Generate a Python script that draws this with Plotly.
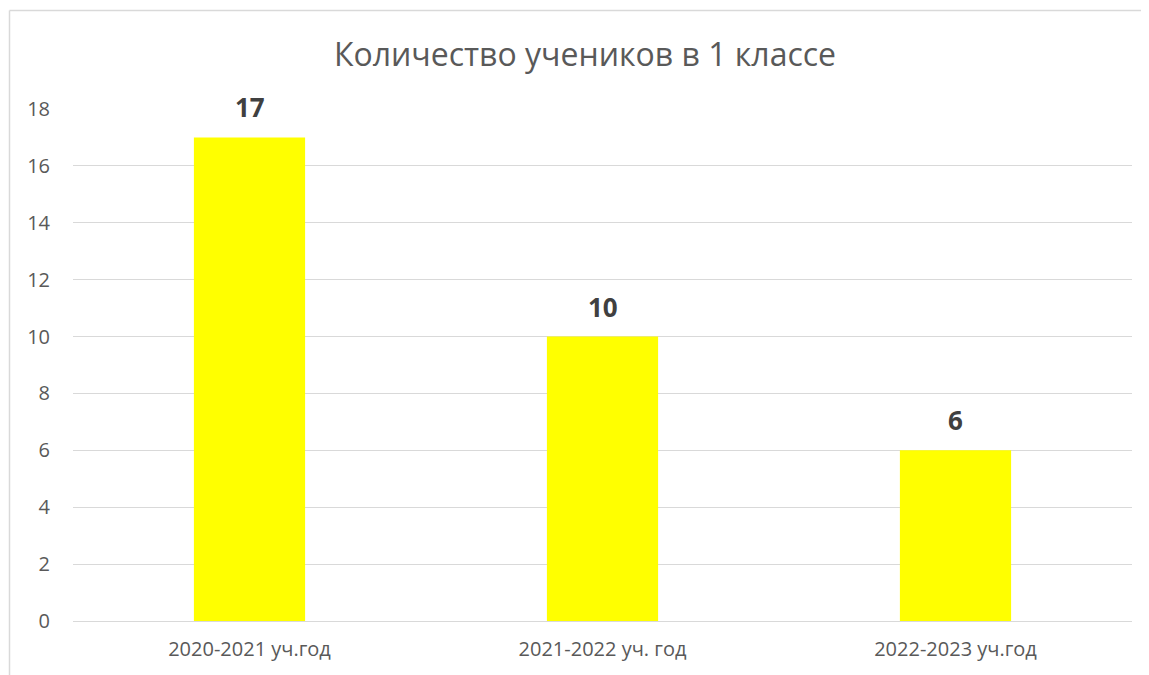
import plotly.graph_objects as go

categories = ["2020-2021 уч.год", "2021-2022 уч. год", "2022-2023 уч.год"]
values = [17, 10, 6]
y_ticks = [0, 2, 4, 6, 8, 10, 12, 14, 16, 18]
title_text = "Количество учеников в 1 классе"

# page body has an 8px default margin, so the figure is offset by 8px
OFF = 8
W, H = 1149 - OFF, 675 - OFF
L, R, T, B = 73 - OFF, 17, 109 - OFF, 54
pw = W - L - R
ph = H - T - B

fig = go.Figure()
fig.add_trace(go.Bar(
    x=categories, y=values,
    marker=dict(color="#FFFF00", line=dict(width=0)),
    hoverinfo="x+y",
))

for c, v in zip(categories, values):
    fig.add_annotation(x=c, y=v, text=f"<b>{v}</b>", showarrow=False,
                       xanchor="center", yanchor="middle", yshift=30,
                       font=dict(family="Open Sans", size=26, color="#404040"))

fig.update_layout(
    width=W, height=H,
    margin=dict(l=L, r=R, t=T, b=B),
    paper_bgcolor="white", plot_bgcolor="white",
    bargap=0.685,
    showlegend=False,
    font=dict(family="Open Sans", color="#595959"),
    title=dict(text=title_text, x=(585 - 73) / pw, xref="paper", xanchor="center",
               y=1 - (55 - OFF) / H, yref="container", yanchor="middle",
               font=dict(family="Open Sans", size=32, color="#595959")),
    xaxis=dict(showgrid=False, showline=False, zeroline=False,
               tickfont=dict(size=20, color="#595959"), ticklabelstandoff=14),
    yaxis=dict(range=[0, 18], tickvals=y_ticks, showgrid=True, gridcolor="#D9D9D9", gridwidth=1,
               zeroline=True, zerolinecolor="#D9D9D9", zerolinewidth=1, showline=False,
               tickfont=dict(size=20, color="#595959"), ticklabelstandoff=22),
)

# chart area border (left and top edges visible)
bx0 = (9.5 - 73) / pw
by1 = (621 - 10.5) / ph
fig.add_shape(type="line", xref="paper", yref="paper",
              x0=bx0, x1=(W - L) / pw, y0=by1, y1=by1,
              line=dict(color="#D9D9D9", width=1.5), layer="below")
fig.add_shape(type="line", xref="paper", yref="paper",
              x0=bx0, x1=bx0, y0=-B / ph, y1=by1,
              line=dict(color="#D9D9D9", width=1.5), layer="below")

fig.write_html("out.html", config={"displayModeBar": False})
